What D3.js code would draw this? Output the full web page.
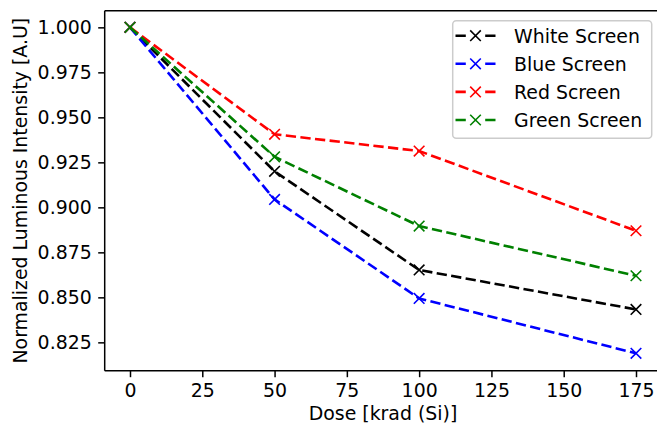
<!DOCTYPE html>
<html>
<head>
<meta charset="utf-8">
<script src="https://cdn.jsdelivr.net/npm/d3@7"></script>
<style>
  body { margin: 0; background: #fff; }
  svg { display: block; font-family: "DejaVu Sans", sans-serif; }
</style>
</head>
<body>
<div class="chartDiv"></div>
<script>
// dose points (krad (Si))
const doses = [0, 50, 100, 175];

const whiteScreen = [1.0, 0.920, 0.8652, 0.8433];
const blueScreen = [1.0, 0.9044, 0.8494, 0.8189];
const redScreen = [1.0, 0.9406, 0.9313, 0.8870];
const greenScreen = [1.0, 0.9281, 0.8896, 0.8620];

const seriesNames = ['White Screen', 'Blue Screen', 'Red Screen', 'Green Screen'];
const seriesColors = ['#000000', '#0000ff', '#ff0000', '#008000'];
const seriesValues = [whiteScreen, blueScreen, redScreen, greenScreen];

const xTicks = [0, 25, 50, 75, 100, 125, 150, 175];
const yTicks = [0.825, 0.850, 0.875, 0.900, 0.925, 0.950, 0.975, 1.000];

const chartWidth = 657;
const chartHeight = 425;
const fontSize = 18.9;

const plotLeft = 104.7;
const plotRight = 661.3;
const plotTop = 10.7;
const plotBottom = 370.7;

const svg = d3.select('.chartDiv')
    .append('svg')
    .attr('width', chartWidth)
    .attr('height', chartHeight);

const x = d3.scaleLinear()
    .domain([-8.75, 183.75])
    .range([plotLeft, plotRight]);

const y = d3.scaleLinear()
    .domain([0.80925, 1.00925])
    .range([plotBottom, plotTop]);

// axes
const xAxis = svg.append('g')
    .attr('transform', `translate(0,${plotBottom})`)
    .call(d3.axisBottom(x).tickValues(xTicks).tickFormat(d3.format('d')).tickSize(6.5).tickPadding(6.5).tickSizeOuter(0));

const yAxis = svg.append('g')
    .attr('transform', `translate(${plotLeft},0)`)
    .call(d3.axisLeft(y).tickValues(yTicks).tickFormat(d3.format('.3f')).tickSize(6.5).tickPadding(6.5).tickSizeOuter(0));

[xAxis, yAxis].forEach(a => {
    a.selectAll('text')
        .attr('font-family', '"DejaVu Sans", sans-serif')
        .attr('font-size', fontSize)
        .attr('fill', '#000');
    a.selectAll('line').attr('stroke', '#000').attr('stroke-width', 1.5);
    a.select('.domain').remove();
});

// spines
svg.append('line')
    .attr('x1', plotLeft).attr('x2', plotRight)
    .attr('y1', plotBottom).attr('y2', plotBottom)
    .attr('stroke', '#000').attr('stroke-width', 1.5);
svg.append('line')
    .attr('x1', plotLeft).attr('x2', plotRight)
    .attr('y1', plotTop).attr('y2', plotTop)
    .attr('stroke', '#000').attr('stroke-width', 1.5);
svg.append('line')
    .attr('x1', plotLeft).attr('x2', plotLeft)
    .attr('y1', plotTop).attr('y2', plotBottom)
    .attr('stroke', '#000').attr('stroke-width', 1.5);

// axis labels
svg.append('text')
    .attr('x', (plotLeft + plotRight) / 2)
    .attr('y', 420)
    .attr('text-anchor', 'middle')
    .attr('font-size', fontSize)
    .text('Dose [krad (Si)]');

svg.append('text')
    .attr('transform', `translate(27,${(plotTop + plotBottom) / 2}) rotate(-90)`)
    .attr('text-anchor', 'middle')
    .attr('font-size', fontSize)
    .text('Normalized Luminous Intensity [A.U]');

const line = d3.line()
    .x((d, i) => x(doses[i]))
    .y(d => y(d));

const markerSize = 5.3;

function drawCross(g, cx, cy, color) {
    g.append('path')
        .attr('d', `M${cx - markerSize},${cy - markerSize}L${cx + markerSize},${cy + markerSize}M${cx - markerSize},${cy + markerSize}L${cx + markerSize},${cy - markerSize}`)
        .attr('stroke', color)
        .attr('stroke-width', 1.6)
        .attr('fill', 'none');
}

seriesValues.forEach((values, s) => {
    const g = svg.append('g');
    g.append('path')
        .datum(values)
        .attr('d', line)
        .attr('fill', 'none')
        .attr('stroke', seriesColors[s])
        .attr('stroke-width', 2.6)
        .attr('stroke-dasharray', '10.3,4.4');
    values.forEach((v, i) => drawCross(g, x(doses[i]), y(v), seriesColors[s]));
});

// legend
const legend = svg.append('g');
legend.append('rect')
    .attr('x', 452.7).attr('y', 20.7)
    .attr('width', 199).attr('height', 117.6)
    .attr('rx', 3.5)
    .attr('fill', 'rgba(255,255,255,0.8)')
    .attr('stroke', '#cccccc')
    .attr('stroke-width', 1.5);

seriesNames.forEach((name, i) => {
    const rowY = 35.7 + i * 28.1;
    legend.append('path')
        .attr('d', `M455.5,${rowY}H495.5`)
        .attr('stroke', seriesColors[i])
        .attr('stroke-width', 2.6)
        .attr('stroke-dasharray', '10.3,19.4,10.3');
    drawCross(legend, 475.5, rowY, seriesColors[i]);
    legend.append('text')
        .attr('x', 514)
        .attr('y', rowY + 6.9)
        .attr('font-size', fontSize)
        .text(name);
});
</script>
</body>
</html>
